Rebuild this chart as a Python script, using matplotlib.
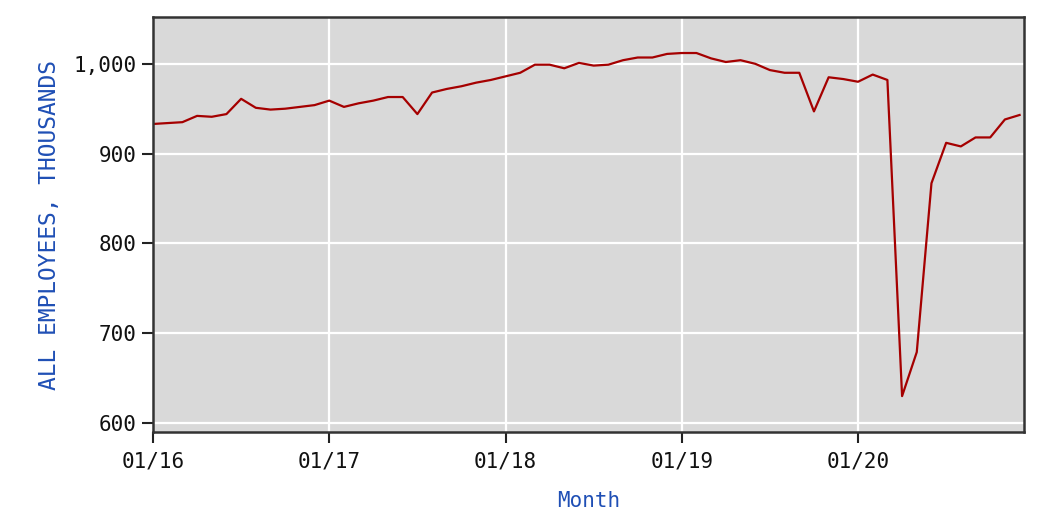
import matplotlib.pyplot as plt
from matplotlib.ticker import FuncFormatter

# monthly values, Jan 2016 - Dec 2020 (thousands)
y2016 = [933, 934, 935, 942, 941, 944, 961, 951, 949, 950, 952, 954]
y2017 = [959, 952, 956, 959, 963, 963, 944, 968, 972, 975, 979, 982]
y2018 = [986, 990, 999, 999, 995, 1001, 998, 999, 1004, 1007, 1007, 1011]
y2019 = [1012, 1012, 1006, 1002, 1004, 1000, 993, 990, 990, 947, 985, 983]
y2020 = [980, 988, 982, 630, 679, 867, 912, 908, 918, 918, 938, 943]
values = y2016 + y2017 + y2018 + y2019 + y2020
months = list(range(len(values)))

tick_pos = [0, 12, 24, 36, 48]
tick_labels = ['01/16', '01/17', '01/18', '01/19', '01/20']
yticks = [600, 700, 800, 900, 1000]

plt.rcParams['font.family'] = ['DejaVu Sans Mono']

fig = plt.figure(figsize=(10.64, 5.18), dpi=100)
ax = fig.add_axes([0.1438, 0.166, 0.8186, 0.801])
ax.set_facecolor('#d9d9d9')

ax.plot(months, values, color='#a50000', lw=1.6)

ax.set_xlim(0, 59.3)
ax.set_ylim(590, 1052)
ax.set_xticks(tick_pos)
ax.set_xticklabels(tick_labels)
ax.set_yticks(yticks)
ax.yaxis.set_major_formatter(FuncFormatter(lambda v, p: f'{int(v):,}'))

ax.grid(True, color='white', lw=1.6)
ax.set_axisbelow(True)
for s in ax.spines.values():
    s.set_color('#333333')
    s.set_linewidth(1.8)

ax.tick_params(axis='both', length=8, width=1.5, color='#222222',
               labelsize=15, labelcolor='#111111', pad=4)
ax.tick_params(axis='x', pad=6)
ax.set_xlabel('Month', color='#1f4fb5', fontsize=15, labelpad=14)
ax.set_ylabel('ALL EMPLOYEES, THOUSANDS', color='#1f4fb5', fontsize=16.5, labelpad=9)

fig.savefig('out.png', dpi=100)
